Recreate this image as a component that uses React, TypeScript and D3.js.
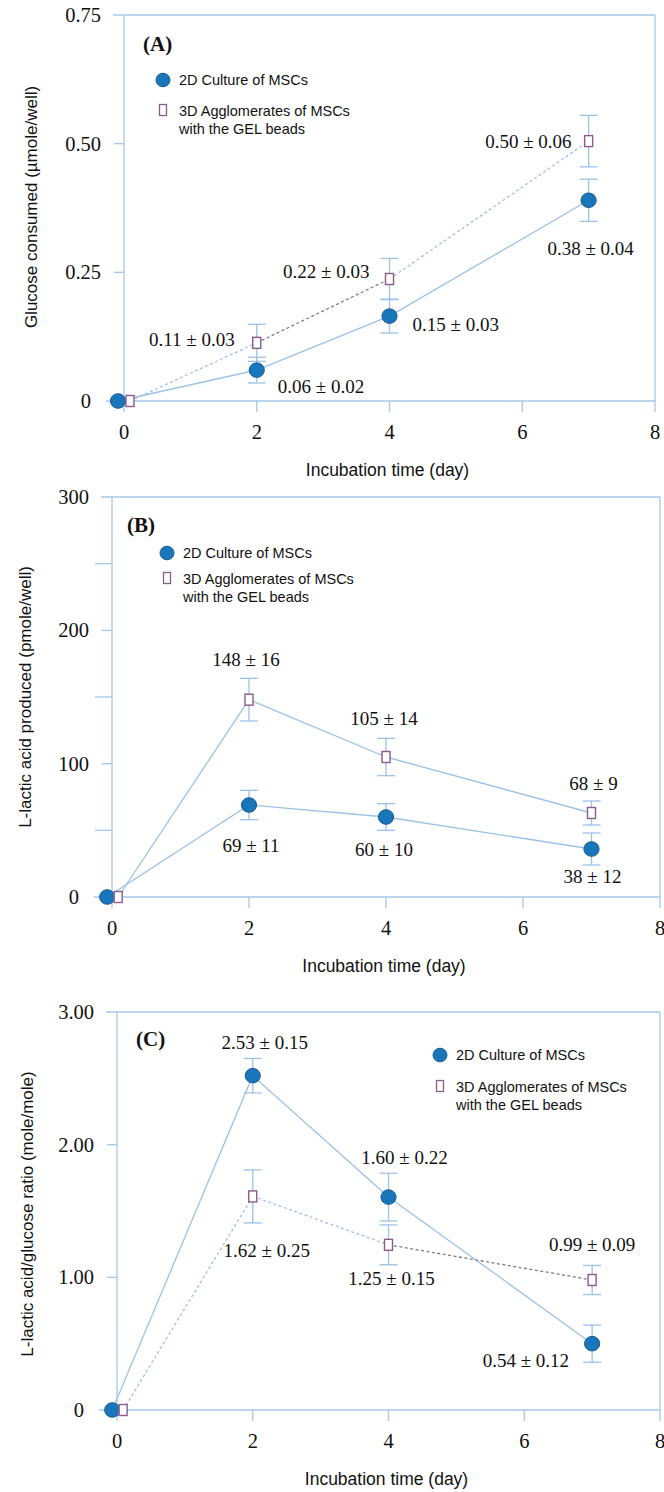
import React from "react";
import * as d3 from "d3";

// ---- data ----
const xTicks = [0, 2, 4, 6, 8];

// (A) glucose consumed, µmole/well
const daysA2D = [-0.09, 2, 4, 7];
const daysA3D = [0.09, 2, 4, 7];
const glucose2D = [0, 0.06, 0.165, 0.39];
const glucose2DErr = [0, 0.025, 0.033, 0.041];
const glucose3D = [0, 0.113, 0.237, 0.505];
const glucose3DErr = [0, 0.036, 0.04, 0.05];
const glucose2DText = ["", "0.06 \u00b1 0.02", "0.15 \u00b1 0.03", "0.38 \u00b1 0.04"];
const glucose3DText = ["", "0.11 \u00b1 0.03", "0.22 \u00b1 0.03", "0.50 \u00b1 0.06"];
const ticksA = [0, 0.25, 0.5, 0.75];
const tickTextA = ["0", "0.25", "0.50", "0.75"];

// (B) L-lactic acid produced, pmole/well
const daysB2D = [-0.07, 2, 4, 7];
const daysB3D = [0.09, 2, 4, 7];
const lactate2D = [0, 69, 60, 36];
const lactate2DErr = [0, 11, 10, 12];
const lactate3D = [0, 148, 105, 63];
const lactate3DErr = [0, 16, 14, 9];
const lactate2DText = ["", "69 \u00b1 11", "60 \u00b1 10", "38 \u00b1 12"];
const lactate3DText = ["", "148 \u00b1 16", "105 \u00b1 14", "68 \u00b1 9"];
const ticksB = [0, 100, 200, 300];
const tickTextB = ["0", "100", "200", "300"];
const minorB = [50, 150, 250];

// (C) lactate / glucose ratio, mole/mole
const daysC2D = [-0.07, 2, 4, 7];
const daysC3D = [0.09, 2, 4, 7];
const ratio2D = [0, 2.52, 1.605, 0.5];
const ratio2DErr = [0, 0.13, 0.18, 0.14];
const ratio3D = [0, 1.61, 1.245, 0.98];
const ratio3DErr = [0, 0.2, 0.15, 0.11];
const ratio2DText = ["", "2.53 \u00b1 0.15", "1.60 \u00b1 0.22", "0.54 \u00b1 0.12"];
const ratio3DText = ["", "1.62 \u00b1 0.25", "1.25 \u00b1 0.15", "0.99 \u00b1 0.09"];
const ticksC = [0, 1, 2, 3];
const tickTextC = ["0", "1.00", "2.00", "3.00"];

const legend2D = "2D Culture of MSCs";
const legend3D = ["3D Agglomerates of MSCs", "with the GEL beads"];
const xTitle = "Incubation time (day)";

// ---- styles ----
const AXIS = "#a6c8ea";
const LINE = "#9cc2e6";
const GRAY = "#7d7d7d";
const DOT = "#1a76bb";
const DOT_EDGE = "#185c92";
const SQ = "#8c5b88";
const SERIF = "'Liberation Serif', 'Times New Roman', serif";
const SANS = "'Liberation Sans', Arial, sans-serif";

type Lbl = [number, number, string]; // dx, dy, anchor

const panels = [
  {
    tag: "(A)", tagX: 143, tagY: 44,
    left: 124, right: 655, top: 15, bottom: 401, yMax: 0.75,
    ticks: ticksA, tickText: tickTextA, minor: [] as number[],
    yTitle: "Glucose consumed (\u00b5mole/well)", yTitleX: 31, yTitleY: 207,
    d2: daysA2D, v2: glucose2D, e2: glucose2DErr, t2: glucose2DText,
    d3: daysA3D, v3: glucose3D, e3: glucose3DErr, t3: glucose3DText,
    seg3: ["blue", "gray", "blue"],
    lab2: [[0, 0, "middle"], [21, 16, "start"], [23, 8, "start"], [2, 48, "middle"]] as Lbl[],
    lab3: [[0, 0, "middle"], [-22, -3, "end"], [-20, -8, "end"], [-17, 0, "end"]] as Lbl[],
    leg: { cx: 163, cy: 80, sy: 110, tx: 179 },
  },
  {
    tag: "(B)", tagX: 127, tagY: 525,
    left: 112, right: 660, top: 497, bottom: 897, yMax: 300,
    ticks: ticksB, tickText: tickTextB, minor: minorB,
    yTitle: "L-lactic acid produced (pmole/well)", yTitleX: 25, yTitleY: 697,
    d2: daysB2D, v2: lactate2D, e2: lactate2DErr, t2: lactate2DText,
    d3: daysB3D, v3: lactate3D, e3: lactate3DErr, t3: lactate3DText,
    seg3: ["solid", "solid", "solid"],
    lab2: [[0, 0, "middle"], [2, 40, "middle"], [-2, 32, "middle"], [1, 27, "middle"]] as Lbl[],
    lab3: [[0, 0, "middle"], [-3, -40, "middle"], [-2, -39, "middle"], [2, -30, "middle"]] as Lbl[],
    leg: { cx: 167, cy: 553, sy: 578, tx: 183 },
  },
  {
    tag: "(C)", tagX: 136, tagY: 1039,
    left: 117, right: 660, top: 1012, bottom: 1410, yMax: 3,
    ticks: ticksC, tickText: tickTextC, minor: [] as number[],
    yTitle: "L-lactic acid/glucose ratio (mole/mole)", yTitleX: 27, yTitleY: 1214,
    d2: daysC2D, v2: ratio2D, e2: ratio2DErr, t2: ratio2DText,
    d3: daysC3D, v3: ratio3D, e3: ratio3DErr, t3: ratio3DText,
    seg3: ["blue", "blue", "gray"],
    lab2: [[0, 0, "middle"], [12, -33, "middle"], [16, -40, "middle"], [-23, 17, "end"]] as Lbl[],
    lab3: [[0, 0, "middle"], [14, 54, "middle"], [3, 34, "middle"], [0, -35, "middle"]] as Lbl[],
    leg: { cx: 440, cy: 1055, sy: 1086, tx: 456 },
  },
];

function Panel({ p }: { p: (typeof panels)[number] }) {
  const x = d3.scaleLinear().domain([0, 8]).range([p.left, p.right]);
  const y = d3.scaleLinear().domain([0, p.yMax]).range([p.bottom, p.top]);
  const line = d3.line<[number, number]>().x((d) => x(d[0])).y((d) => y(d[1]));
  const pts2 = p.d2.map((d, i) => [d, p.v2[i]] as [number, number]);
  const pts3 = p.d3.map((d, i) => [d, p.v3[i]] as [number, number]);

  const errBars = (days: number[], vals: number[], errs: number[], key: string) =>
    days.map((d, i) =>
      errs[i] > 0 ? (
        <g key={key + i} stroke={LINE} strokeWidth={1.3}>
          <line x1={x(d)} x2={x(d)} y1={y(vals[i] - errs[i])} y2={y(vals[i] + errs[i])} />
          <line x1={x(d) - 9} x2={x(d) + 9} y1={y(vals[i] - errs[i])} y2={y(vals[i] - errs[i])} />
          <line x1={x(d) - 9} x2={x(d) + 9} y1={y(vals[i] + errs[i])} y2={y(vals[i] + errs[i])} />
        </g>
      ) : null
    );

  return (
    <g>
      {/* frame */}
      <g stroke={AXIS} strokeWidth={1.3} fill="none">
        <line x1={p.left} x2={p.left} y1={p.top} y2={p.bottom + 11} />
        <line x1={p.right} x2={p.right} y1={p.top} y2={p.bottom + 11} />
        <line x1={p.left - 11} x2={p.right} y1={p.top} y2={p.top} />
        <line x1={p.left - 18} x2={p.right} y1={p.bottom} y2={p.bottom} />
        {p.ticks.slice(1, -1).map((t) => (
          <line key={"yt" + t} x1={p.left - 10} x2={p.left} y1={y(t)} y2={y(t)} />
        ))}
        {p.minor.map((t) => (
          <line key={"ym" + t} x1={p.left - 17} x2={p.left} y1={y(t)} y2={y(t)} />
        ))}
        {xTicks.slice(1, -1).map((t) => (
          <line key={"xt" + t} x1={x(t)} x2={x(t)} y1={p.bottom} y2={p.bottom + 11} />
        ))}
      </g>
      {/* tick labels */}
      <g fontFamily={SERIF} fontSize={20.5} fill="#111">
        {p.ticks.map((t, i) => (
          <text key={"yl" + t} x={p.left - (i === 0 ? 33 : 23)} y={y(t)} textAnchor="end" dominantBaseline="central">
            {p.tickText[i]}
          </text>
        ))}
        {xTicks.map((t) => (
          <text key={"xl" + t} x={x(t)} y={p.bottom + 31} textAnchor="middle" dominantBaseline="central">
            {t}
          </text>
        ))}
      </g>
      {/* titles */}
      <text x={(p.left + p.right) / 2 - 2} y={p.bottom + 69} textAnchor="middle" dominantBaseline="central"
        fontFamily={SANS} fontSize={17.5} fill="#111">{xTitle}</text>
      <text transform={`translate(${p.yTitleX},${p.yTitleY}) rotate(-90)`} textAnchor="middle" dominantBaseline="central"
        fontFamily={SANS} fontSize={17} fill="#111">{p.yTitle}</text>
      <text x={p.tagX} y={p.tagY} dominantBaseline="central" fontFamily={SERIF} fontWeight="bold" fontSize={21} fill="#111">
        {p.tag}
      </text>
      {/* series lines */}
      <path d={line(pts2) ?? ""} fill="none" stroke={LINE} strokeWidth={1.3} />
      {p.seg3.map((s, i) => (
        <path key={"s" + i} d={line([pts3[i], pts3[i + 1]]) ?? ""} fill="none"
          stroke={s === "gray" ? GRAY : LINE} strokeWidth={1.3}
          strokeDasharray={s === "solid" ? undefined : "3 2.5"} />
      ))}
      {errBars(p.d3, p.v3, p.e3, "e3")}
      {errBars(p.d2, p.v2, p.e2, "e2")}
      {/* markers */}
      {pts2.map((d, i) => (
        <ellipse key={"c" + i} cx={x(d[0])} cy={y(d[1])} rx={7.6} ry={7.3} fill={DOT} stroke={DOT_EDGE} strokeWidth={1} />
      ))}
      {pts3.map((d, i) => (
        <rect key={"q" + i} x={x(d[0]) - 4} y={y(d[1]) - 5.5} width={8} height={11} fill="#fff" stroke={SQ} strokeWidth={1.4} />
      ))}
      {/* value annotations */}
      <g fontFamily={SERIF} fontSize={19} fill="#111">
        {pts2.map((d, i) =>
          p.t2[i] ? (
            <text key={"a2" + i} x={x(d[0]) + p.lab2[i][0]} y={y(d[1]) + p.lab2[i][1]}
              textAnchor={p.lab2[i][2] as any} dominantBaseline="central">{p.t2[i]}</text>
          ) : null
        )}
        {pts3.map((d, i) =>
          p.t3[i] ? (
            <text key={"a3" + i} x={x(d[0]) + p.lab3[i][0]} y={y(d[1]) + p.lab3[i][1]}
              textAnchor={p.lab3[i][2] as any} dominantBaseline="central">{p.t3[i]}</text>
          ) : null
        )}
      </g>
      {/* legend */}
      <g fontFamily={SANS} fontSize={14.5} fill="#111">
        <ellipse cx={p.leg.cx} cy={p.leg.cy} rx={7} ry={6.8} fill={DOT} stroke={DOT_EDGE} strokeWidth={1} />
        <text x={p.leg.tx} y={p.leg.cy} dominantBaseline="central">{legend2D}</text>
        <rect x={p.leg.cx - 3.5} y={p.leg.sy - 5.5} width={7} height={11} fill="#fff" stroke={SQ} strokeWidth={1.3} />
        <text x={p.leg.tx} y={p.leg.sy + 1} dominantBaseline="central">{legend3D[0]}</text>
        <text x={p.leg.tx} y={p.leg.sy + 19} dominantBaseline="central">{legend3D[1]}</text>
      </g>
    </g>
  );
}

export default function App() {
  return (
    <div>
      <style>{`body{margin:0;background:#fff}`}</style>
      <svg width={664} height={1492} style={{ display: "block" }}>
        <rect width={664} height={1492} fill="#fff" />
        {panels.map((p) => (
          <Panel key={p.tag} p={p} />
        ))}
      </svg>
    </div>
  );
}
